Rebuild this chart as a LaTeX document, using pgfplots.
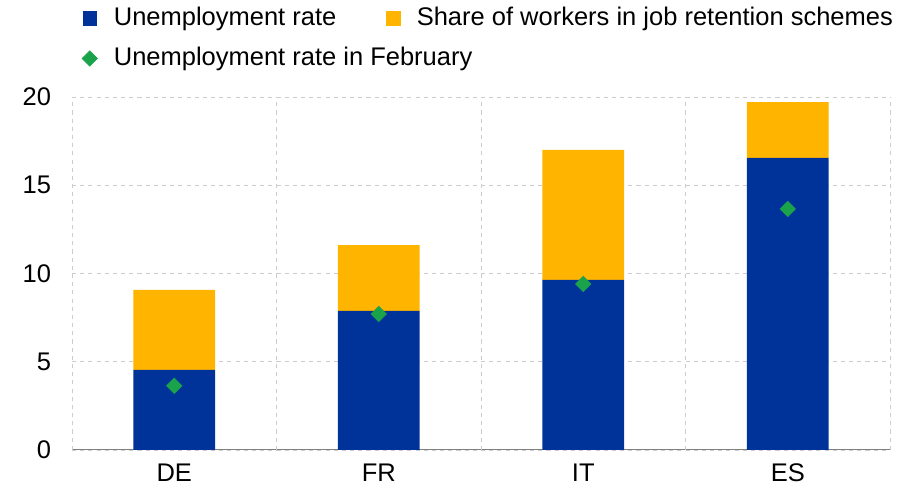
\documentclass[border=0pt]{standalone}
\usepackage{pgfplots}
\pgfplotsset{compat=1.18}
\usepackage{fontspec}
\setmainfont{Liberation Sans}
\definecolor{ecbblue}{HTML}{003399}
\definecolor{ecborange}{HTML}{FFB400}
\definecolor{ecbgreen}{HTML}{1AA34A}
\begin{document}
\fontsize{18.7}{23}\selectfont
\begin{tikzpicture}
\pgfplotsset{common/.style={
  scale only axis, width=600pt, height=259pt,
  ymin=0, ymax=20, xmin=-0.5, xmax=3.5}}
\begin{axis}[common,
  /pgf/number format/assume math mode=true,
  ytick={0,5,...,20},
  xtick={0,1,2,3}, xticklabels={DE,FR,IT,ES},
  major x tick style={draw=none},
  extra x ticks={-0.5,0.5,1.5,2.5,3.5}, extra x tick labels={},
  extra x tick style={grid=major, major grid style={dashed,gray!40}, tick style={draw=gray, line width=0.6pt}, major tick length=5pt, tick align=outside},
  ymajorgrids, grid style={dashed,gray!40},
  axis y line*=left, axis x line*=bottom,
  y axis line style={draw=none}, ytick style={draw=none},
  x axis line style={gray, line width=0.6pt},
  ybar stacked, bar width=60pt,
  tick label style={font=\fontsize{18.7}{23}\selectfont},
  yticklabel style={xshift=-9pt},
  xticklabel style={yshift=-4pt},
]
\addplot[fill=ecbblue, draw=none] coordinates {(0,4.53) (1,7.88) (2,9.63) (3,16.54)};
\addplot[fill=ecborange, draw=none] coordinates {(0,4.53) (1,3.72) (2,7.37) (3,3.16)};
\coordinate (bl) at (rel axis cs:0,0);
\coordinate (tr) at (rel axis cs:1,1);
\end{axis}
\begin{axis}[common, hide axis,
  legend style={at={(0.012,1.262)}, anchor=north west, draw=none, fill=none,
    legend columns=2, font=\fontsize{18.7}{23}\selectfont, row sep=9pt,
    inner sep=0pt,
    /tikz/every odd column/.append style={column sep=10pt},
    /tikz/every even column/.append style={column sep=35pt}},
  legend cell align=left,
]
\addlegendimage{only marks, mark=square*, mark size=5pt, ecbblue}
\addlegendentry{Unemployment rate}
\addlegendimage{only marks, mark=square*, mark size=5pt, ecborange}
\addlegendentry{Share of workers in job retention schemes}
\addplot[ecbgreen, only marks, mark=square*, mark size=4pt, mark options={rotate=45}] coordinates {(0,3.63) (1,7.7) (2,9.4) (3,13.65)};
\addlegendentry{\makebox[0pt][l]{Unemployment rate in February}}
\end{axis}
\pgfresetboundingbox
\path ([xshift=-52.8pt,yshift=-30.8pt]bl) rectangle ([xshift=17.6pt,yshift=71pt]tr);
\end{tikzpicture}
\end{document}
